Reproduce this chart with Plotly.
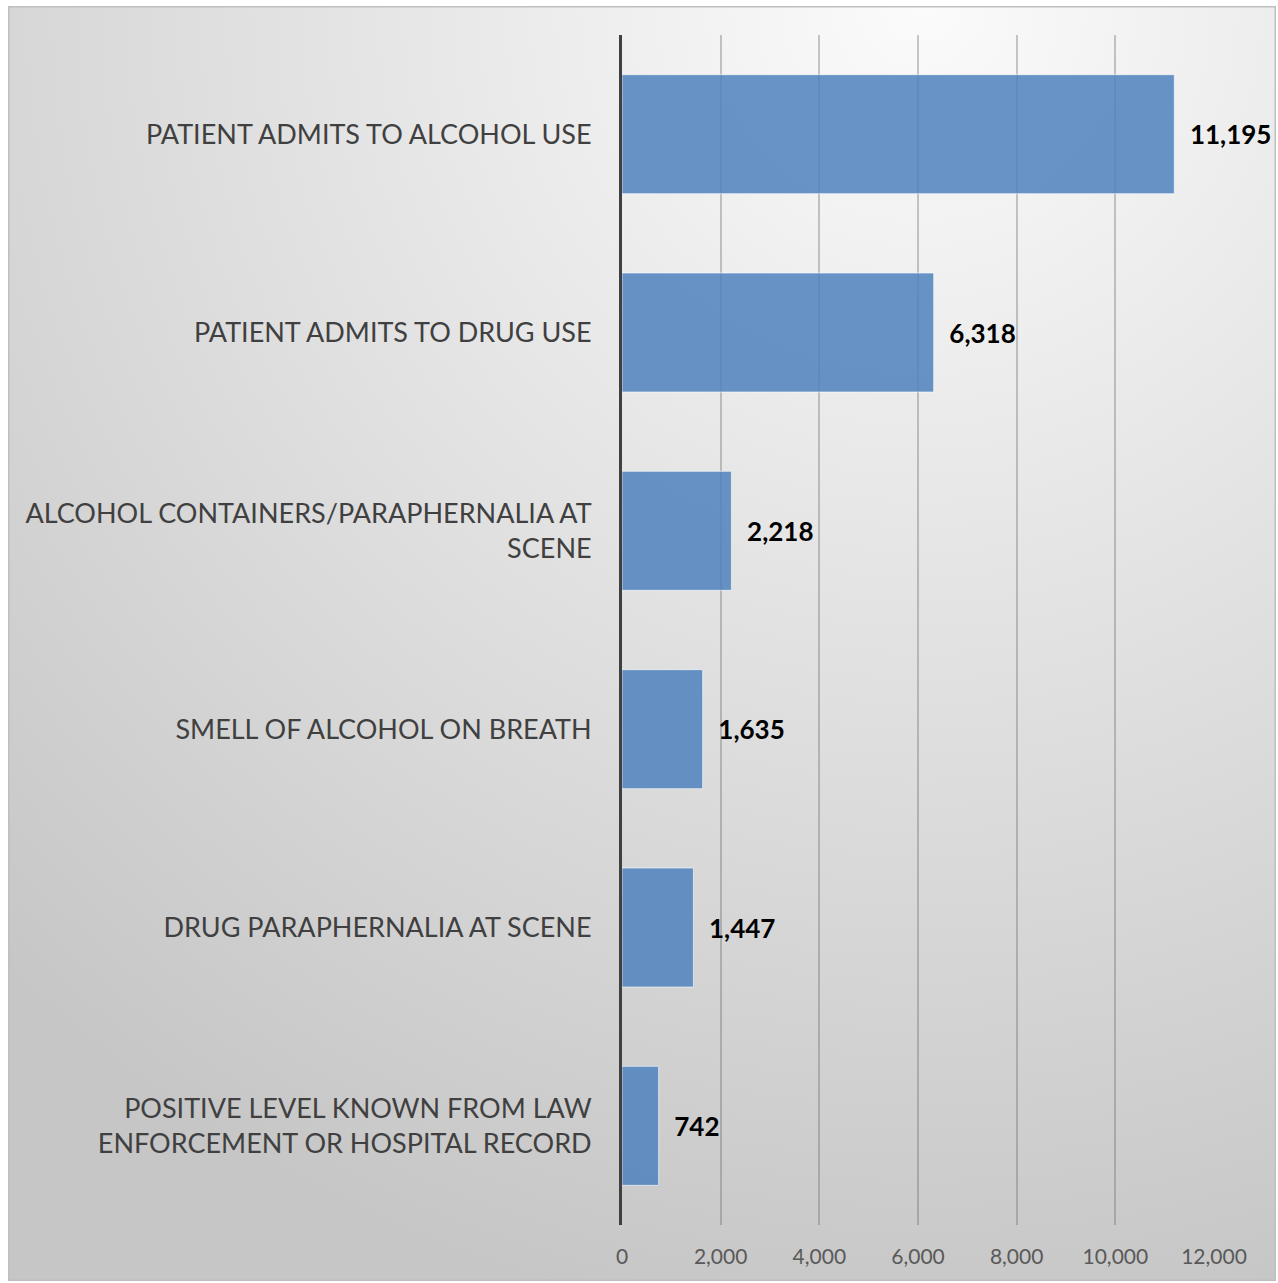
import base64
import plotly.graph_objects as go

categories = [
    "PATIENT ADMITS TO ALCOHOL USE",
    "PATIENT ADMITS TO DRUG USE",
    "ALCOHOL CONTAINERS/PARAPHERNALIA AT<br>SCENE",
    "SMELL OF ALCOHOL ON BREATH",
    "DRUG PARAPHERNALIA AT SCENE",
    "POSITIVE LEVEL KNOWN FROM LAW<br>ENFORCEMENT OR HOSPITAL RECORD",
]
values = [11195, 6318, 2218, 1635, 1447, 742]
x_ticks = [0, 2000, 4000, 6000, 8000, 10000, 12000]
x_tick_labels = ["0", "2,000", "4,000", "6,000", "8,000", "10,000", "12,000"]

W, H = 1278, 1283
L, R, T, B = 622, 64, 35, 58
pw, ph = W - L - R, H - T - B

svg = """<svg xmlns='http://www.w3.org/2000/svg' width='1268' height='1275' viewBox='0 0 1268 1275' preserveAspectRatio='none'>
<defs><radialGradient id='g' cx='0.72' cy='0.0' r='1.05' gradientUnits='objectBoundingBox'>
<stop offset='0' stop-color='#fbfbfb'/><stop offset='0.55' stop-color='#dedede'/><stop offset='1' stop-color='#c6c6c6'/>
</radialGradient></defs>
<rect x='0' y='0' width='1268' height='1275' fill='url(#g)' stroke='#bfbfbf' stroke-width='3'/>
</svg>"""
src = "data:image/svg+xml;base64," + base64.b64encode(svg.encode()).decode()

def px_x(p):
    return (p - L) / pw

def px_y(p):
    return (H - B - p) / ph

fig = go.Figure()
fig.add_trace(go.Bar(
    x=values,
    y=categories,
    orientation="h",
    marker=dict(color="rgba(79,129,189,0.85)", line=dict(color="rgba(255,255,255,0.6)", width=1)),
    text=values,
    texttemplate="\u00a0\u00a0%{x:,}",
    textposition="outside",
    textfont=dict(family="Lato", size=26, color="#000000", weight="bold"),
    cliponaxis=False,
    constraintext="none",
    hoverinfo="skip",
))

fig.add_layout_image(dict(
    source=src, xref="paper", yref="paper",
    x=px_x(8), y=px_y(6),
    sizex=px_x(1276) - px_x(8), sizey=px_y(6) - px_y(1281),
    xanchor="left", yanchor="top", sizing="stretch", layer="below",
))

fig.update_layout(
    width=W, height=H,
    margin=dict(l=L, r=R, t=T, b=B, pad=0),
    paper_bgcolor="white",
    plot_bgcolor="rgba(0,0,0,0)",
    bargap=0.4,
    showlegend=False,
    xaxis=dict(
        range=[0, 12000], automargin=False,
        tickmode="array", tickvals=x_ticks, ticktext=x_tick_labels,
        showgrid=True, gridcolor="rgba(100,100,100,0.35)", gridwidth=1.5,
        zeroline=False, showline=False,
        ticks="outside", ticklen=13, tickcolor="rgba(0,0,0,0)",
        tickfont=dict(family="Lato", size=21, color="#595959"),
    ),
    yaxis=dict(
        autorange="reversed", automargin=False,
        showgrid=False, zeroline=False,
        showline=True, linecolor="#404040", linewidth=3,
        ticks="outside", ticklen=22, tickcolor="rgba(0,0,0,0)",
        tickfont=dict(family="Lato", size=27, color="#404040"),
    ),
)

fig.write_html(
    "out.html",
    config={"displayModeBar": False},
    post_script="document.body.style.margin='0';document.body.style.overflow='hidden';",
)
